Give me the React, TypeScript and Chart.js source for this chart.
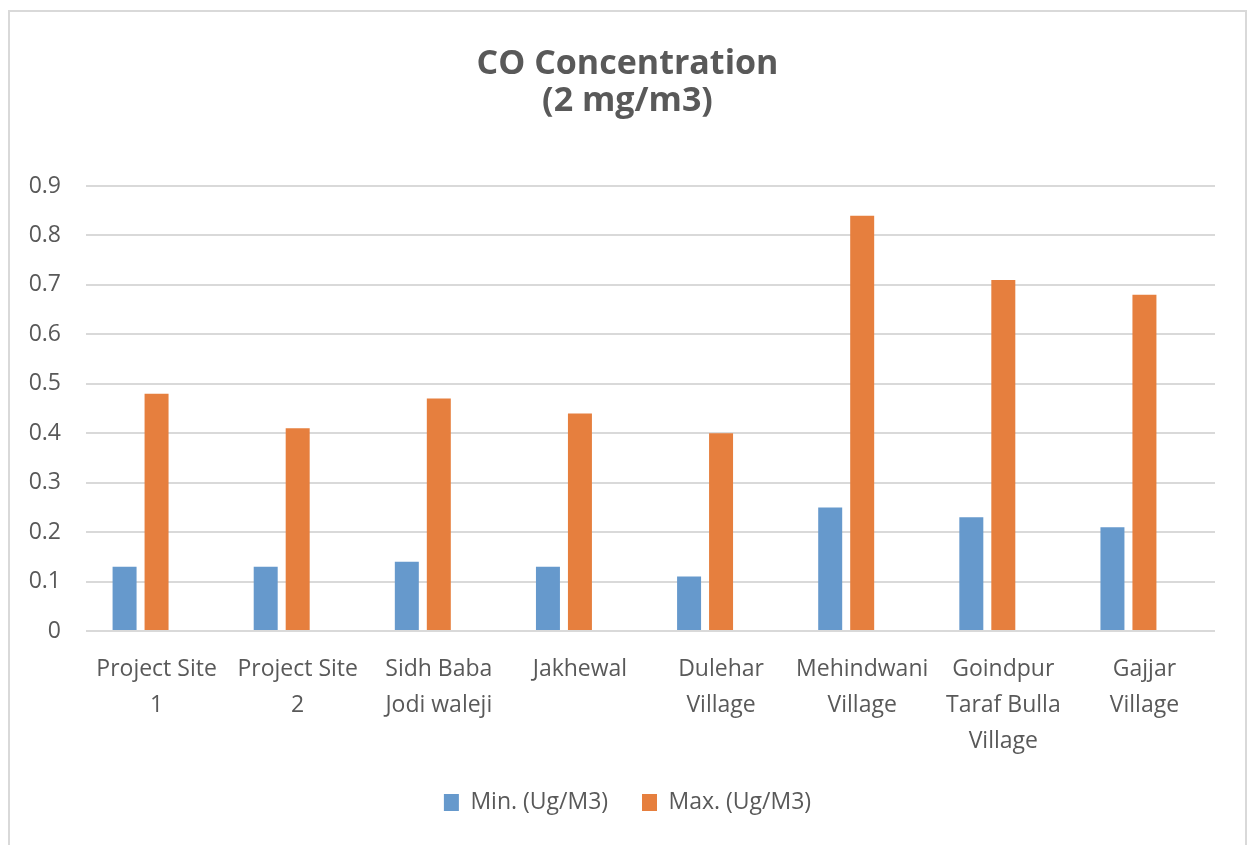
import React, { useEffect, useRef } from "react";
import { Chart, registerables } from "chart.js";

Chart.register(...registerables);

const categories: string[][] = [
  ["Project Site", "1"],
  ["Project Site", "2"],
  ["Sidh Baba", "Jodi waleji"],
  ["Jakhewal"],
  ["Dulehar", "Village"],
  ["Mehindwani", "Village"],
  ["Goindpur", "Taraf Bulla", "Village"],
  ["Gajjar", "Village"],
];
const minValues = [0.13, 0.13, 0.14, 0.13, 0.11, 0.25, 0.23, 0.21];
const maxValues = [0.48, 0.41, 0.47, 0.44, 0.4, 0.84, 0.71, 0.68];
const emptySeries = [null, null, null, null, null, null, null, null];
const titleLines = ["CO Concentration", "(2 mg/m3)"];
const seriesNames = ["Min. (Ug/M3)", "Max. (Ug/M3)"];

const FONT = "'Open Sans', sans-serif";
const TEXT = "#595959";

export default function App() {
  const ref = useRef<HTMLCanvasElement | null>(null);
  useEffect(() => {
    if (!ref.current) return;
    const chart = new Chart(ref.current, {
      type: "bar",
      data: {
        labels: categories,
        datasets: [
          { label: seriesNames[0], data: minValues, backgroundColor: "#6699CC" },
          { label: seriesNames[1], data: maxValues, backgroundColor: "#E67F3E" },
          { label: "", data: emptySeries as any, backgroundColor: "transparent" },
        ],
      },
      options: {
        responsive: false,
        animation: false,
        events: [],
        categoryPercentage: 0.68,
        barPercentage: 0.75,
        layout: { padding: { left: 0, right: 0, top: 0, bottom: 21 } },
        plugins: {
          title: {
            display: true,
            text: titleLines,
            color: TEXT,
            font: { family: FONT, size: 34, weight: "bold", lineHeight: 1.088 },
            padding: { top: 34, bottom: 66 },
          },
          legend: {
            position: "bottom",
            labels: {
              color: TEXT,
              font: { family: FONT, size: 23 },
              boxWidth: 15,
              boxHeight: 17,
              padding: 10,
              generateLabels: (c: any) => {
                const items = Chart.defaults.plugins.legend.labels
                  .generateLabels(c)
                  .filter((it: any) => it.datasetIndex < 2);
                if (items.length > 0) items[0].text = items[0].text + "    ";
                return items;
              },
            },
          },
          tooltip: { enabled: false },
        },
        scales: {
          x: {
            grid: { display: false, drawTicks: false },
            border: { display: false },
            ticks: {
              color: TEXT,
              font: { family: FONT, size: 23, lineHeight: 1.565 },
              padding: 20,
              maxRotation: 0,
              autoSkip: false,
            },
            afterFit: (s: any) => {
              s.height = 150;
            },
          },
          y: {
            min: 0,
            max: 0.9,
            grid: { color: "#d9d9d9", lineWidth: 2, drawTicks: false },
            border: { display: false },
            ticks: {
              stepSize: 0.1,
              color: TEXT,
              font: { family: FONT, size: 23 },
              padding: 25,
              callback: (v: any) => (Number(v) === 0 ? "0" : Number(v).toFixed(1)),
            },
            afterFit: (s: any) => {
              s.width = 76;
            },
          },
          spacer: {
            type: "linear",
            position: "right",
            min: 0,
            max: 1,
            grid: { display: false, drawTicks: false },
            border: { display: false },
            ticks: { display: false },
            afterFit: (s: any) => {
              s.width = 30;
            },
          },
        } as any,
      },
    });
    return () => chart.destroy();
  }, []);
  return (
    <div
      style={{
        position: "fixed",
        left: 8,
        top: 10,
        width: 1239,
        height: 860,
        boxSizing: "border-box",
        border: "2px solid #d9d9d9",
        background: "#fff",
      }}
    >
      <canvas ref={ref} width={1235} height={833} style={{ display: "block" }} />
    </div>
  );
}
